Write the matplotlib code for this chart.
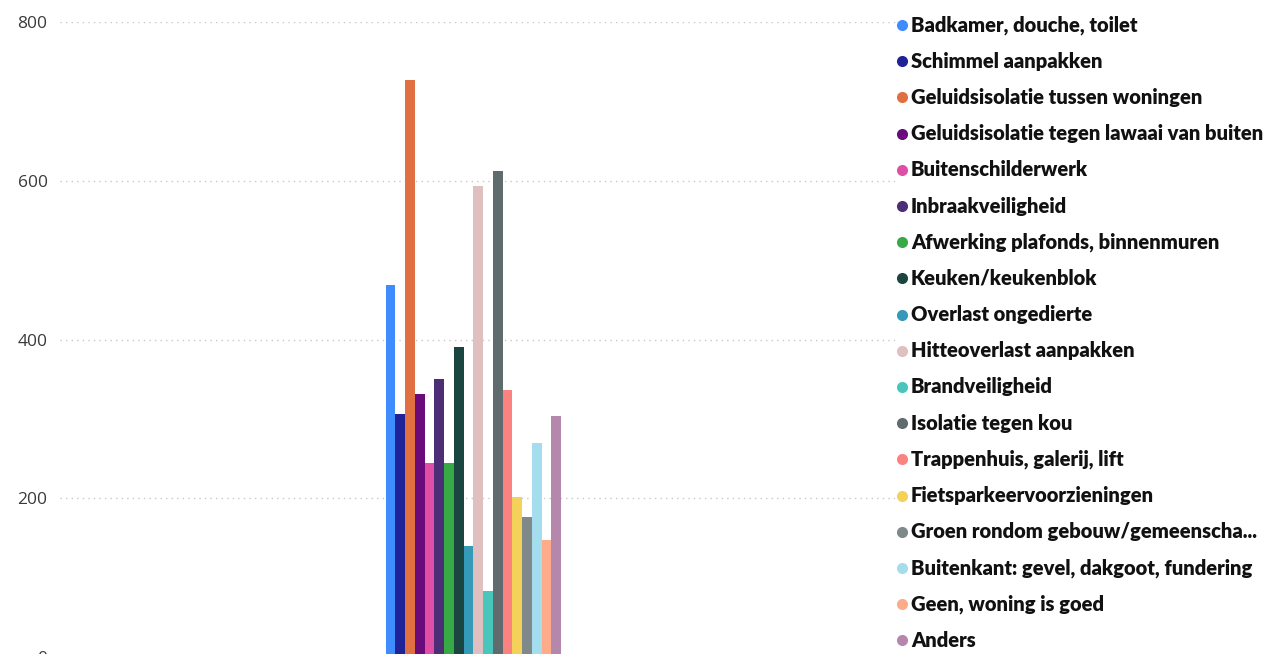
import matplotlib
matplotlib.use('Agg')
from matplotlib import pyplot as plt
from matplotlib.lines import Line2D

labels = ['Badkamer, douche, toilet', 'Schimmel aanpakken', 'Geluidsisolatie tussen woningen',
          'Geluidsisolatie tegen lawaai van buiten', 'Buitenschilderwerk', 'Inbraakveiligheid',
          'Afwerking plafonds, binnenmuren', 'Keuken/keukenblok', 'Overlast ongedierte',
          'Hitteoverlast aanpakken', 'Brandveiligheid', 'Isolatie tegen kou',
          'Trappenhuis, galerij, lift', 'Fietsparkeervoorzieningen',
          'Groen rondom gebouw/gemeenscha...', 'Buitenkant: gevel, dakgoot, fundering',
          'Geen, woning is goed', 'Anders']
values = [469, 306, 727, 331, 245, 350, 245, 390, 140, 593, 83, 612, 336, 202, 177, 270, 147, 303]
colors = ['#3F8CFF', '#1F2397', '#E07041', '#6B0A7B', '#E04FA6', '#4B2E75', '#38AA45', '#1B4540',
          '#3599B8', '#DFBFBF', '#4AC5BB', '#5F6B6D', '#FB8281', '#F4D25A', '#7F898A', '#A4DDEE',
          '#FDAB89', '#B687AC']
yticks = [0, 200, 400, 600, 800]

W, H = 1274, 654
fig = plt.figure(figsize=(W / 100, H / 100), dpi=100)
ax = fig.add_axes([60 / W, -3 / H, 835 / W, 635 / H])

n = len(values)
bw = 0.21 / n
xs = [(i - (n - 1) / 2) * bw for i in range(n)]
ax.bar(xs, values, width=bw, color=colors, zorder=3)

ax.set_xlim(-0.495, 0.505)
ax.set_ylim(0, 800)
ax.set_yticks(yticks)
ax.set_yticklabels([str(t) for t in yticks], color='#3a3a3a', fontsize=12.5, family='Open Sans')
ax.tick_params(axis='y', length=0, pad=9)
ax.set_xticks([])
ax.grid(axis='y', color='#C8C8C8', linestyle=(0, (1, 3)), linewidth=1, zorder=0)
for s in ax.spines.values():
    s.set_visible(False)

# legend on the right
for i, (lab, c) in enumerate(zip(labels, colors)):
    yc = 1 - (25 + i * 36.2) / H
    fig.add_artist(Line2D([902 / W], [yc], marker='o', markersize=8, color=c,
                          markeredgewidth=0, transform=fig.transFigure))
    fig.text(911 / W, yc, lab, fontsize=14.5, fontweight='heavy', family='Lato',
             color='#111111', va='center', ha='left')

fig.savefig('out.png', dpi=100)
